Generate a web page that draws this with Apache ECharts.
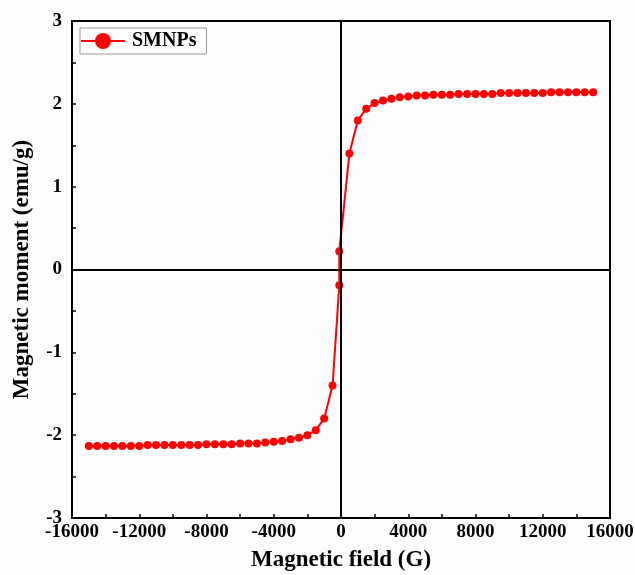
<!DOCTYPE html>
<html>
<head>
<meta charset="utf-8">
<script src="https://cdn.jsdelivr.net/npm/echarts@6/dist/echarts.min.js"></script>
<style>
  html, body { margin: 0; padding: 0; background: #fdfdfd; }
  #chart { width: 635px; height: 575px; }
</style>
</head>
<body>
<div id="chart"></div>
<script>
// Applied field (G) and magnetic moment (emu/g) of the SMNPs sample
const fieldG = [
  -15000, -14500, -14000, -13500, -13000, -12500, -12000, -11500, -11000, -10500,
  -10000, -9500, -9000, -8500, -8000, -7500, -7000, -6500, -6000, -5500,
  -5000, -4500, -4000, -3500, -3000, -2500, -2000, -1500, -1000, -500,
  -100, -100,
  500, 1000, 1500, 2000, 2500, 3000, 3500, 4000, 4500, 5000,
  5500, 6000, 6500, 7000, 7500, 8000, 8500, 9000, 9500, 10000,
  10500, 11000, 11500, 12000, 12500, 13000, 13500, 14000, 14500, 15000
];
const momentEmuG = [
  -2.13, -2.13, -2.13, -2.13, -2.13, -2.13, -2.13, -2.12, -2.12, -2.12,
  -2.12, -2.12, -2.12, -2.12, -2.11, -2.11, -2.11, -2.11, -2.10, -2.10,
  -2.10, -2.09, -2.08, -2.07, -2.05, -2.03, -2.00, -1.94, -1.80, -1.40,
  -0.19, 0.22,
  1.40, 1.80, 1.94, 2.01, 2.04, 2.06, 2.08, 2.09, 2.10, 2.10,
  2.11, 2.11, 2.11, 2.12, 2.12, 2.12, 2.12, 2.12, 2.13, 2.13,
  2.13, 2.13, 2.13, 2.13, 2.14, 2.14, 2.14, 2.14, 2.14, 2.14
];
const seriesName = 'SMNPs';
const xTitle = 'Magnetic field (G)';
const yTitle = 'Magnetic moment (emu/g)';

const points = fieldG.map((g, i) => [g, momentEmuG[i]]);
const serif = '"Liberation Serif", "DejaVu Serif", serif';
const plain = v => String(v);

const chart = echarts.init(document.getElementById('chart'));
chart.setOption({
  backgroundColor: '#fdfdfd',
  animation: false,
  grid: {
    left: 72, right: 25, top: 21, bottom: 57,
    outerBoundsMode: 'none', containLabel: false,
    show: true, borderColor: '#000', borderWidth: 2, backgroundColor: 'transparent'
  },
  legend: {
    left: 80, top: 28,
    data: [seriesName],
    itemWidth: 44, itemHeight: 20,
    itemGap: 4,
    padding: [3, 10, 3, 0],
    borderColor: '#999', borderWidth: 1,
    textStyle: { fontFamily: serif, fontWeight: 'bold', fontSize: 20, color: '#000', padding: [0, 0, 0, 2] }
  },
  xAxis: {
    type: 'value',
    min: -16000, max: 16000, interval: 4000,
    name: xTitle, nameLocation: 'middle', nameGap: 31,
    nameTextStyle: { fontFamily: serif, fontWeight: 'bold', fontSize: 23, color: '#000' },
    axisLine: { onZero: false, lineStyle: { color: '#000', width: 2 } },
    axisTick: { inside: true, length: 4, lineStyle: { color: '#000', width: 1.5 } },
    minorTick: { show: true, splitNumber: 2, length: 4, lineStyle: { color: '#000', width: 1.5 } },
    axisLabel: { fontFamily: serif, fontWeight: 'bold', fontSize: 19, color: '#000', margin: 5, formatter: plain },
    splitLine: { show: false }
  },
  yAxis: {
    type: 'value',
    min: -3, max: 3, interval: 1,
    name: yTitle, nameLocation: 'middle', nameGap: 38, nameRotate: 90,
    nameTextStyle: { fontFamily: serif, fontWeight: 'bold', fontSize: 23, color: '#000' },
    axisLine: { onZero: false, lineStyle: { color: '#000', width: 2 } },
    axisTick: { inside: true, length: 4, lineStyle: { color: '#000', width: 1.5 } },
    minorTick: { show: true, splitNumber: 2, length: 4, lineStyle: { color: '#000', width: 1.5 } },
    axisLabel: { fontFamily: serif, fontWeight: 'bold', fontSize: 19, color: '#000', margin: 10, formatter: plain },
    splitLine: { show: false }
  },
  series: [{
    name: seriesName,
    type: 'line',
    data: points,
    symbol: 'circle',
    symbolSize: 8,
    itemStyle: { color: '#ff0000' },
    lineStyle: { color: '#ff0000', width: 2 },
    markLine: {
      silent: true,
      symbol: 'none',
      label: { show: false },
      lineStyle: { color: '#000', width: 2, type: 'solid' },
      data: [{ xAxis: 0 }, { yAxis: 0 }]
    }
  }]
});
</script>
</body>
</html>
